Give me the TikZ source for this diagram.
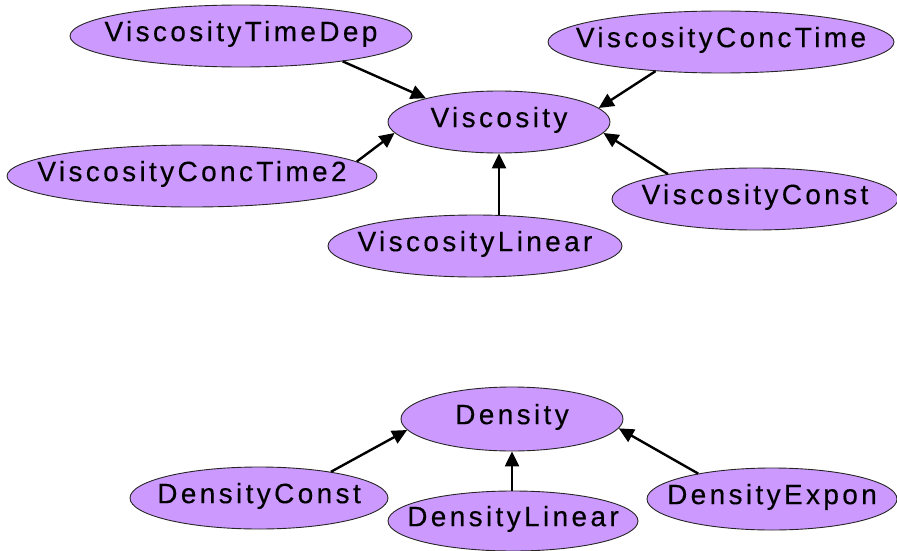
\documentclass[tikz,border=0pt]{standalone}
\usepackage{fontspec}
\setmainfont[LetterSpace=12,FakeBold=0.3]{Liberation Sans}
\usetikzlibrary{shapes.geometric,arrows.meta}
\definecolor{lilac}{HTML}{CC99FF}
\newcommand{\entlabel}[1]{\makebox[0pt]{#1}\rule[-10pt]{0pt}{10pt}}
\tikzset{
  ent/.style={ellipse, draw=black!85, line width=0.9pt, fill=lilac, inner sep=0pt,
    font=\fontsize{28}{33}\selectfont},
  edge/.style={line width=2.4pt, -{Triangle[length=15pt,width=14pt]}}
}
\begin{document}
\begin{tikzpicture}[x=1pt,y=-1pt]
\useasboundingbox (0,0) rectangle (897,551);
\node[ent, minimum width=342pt, minimum height=62pt] (vtd) at (241,36) {\entlabel{ViscosityTimeDep}};
\node[ent, minimum width=346pt, minimum height=62pt] (vct) at (721,42) {\entlabel{ViscosityConcTime}};
\node[ent, minimum width=222pt, minimum height=62pt] (vis) at (499,122) {\entlabel{Viscosity}};
\node[ent, minimum width=370pt, minimum height=62pt] (vct2) at (192,176) {\entlabel{ViscosityConcTime2}};
\node[ent, minimum width=286pt, minimum height=62pt] (vc) at (755,199) {\entlabel{ViscosityConst}};
\node[ent, minimum width=294pt, minimum height=62pt] (vl) at (475,246) {\entlabel{ViscosityLinear}};
\node[ent, minimum width=222pt, minimum height=64pt] (den) at (512,419) {\entlabel{Density}};
\node[ent, minimum width=258pt, minimum height=62pt] (dc) at (259,498) {\entlabel{DensityConst}};
\node[ent, minimum width=250pt, minimum height=60pt] (dl) at (513,521) {\entlabel{DensityLinear}};
\node[ent, minimum width=250pt, minimum height=62pt] (de) at (772,499) {\entlabel{DensityExpon}};
\draw[edge] (vtd.-14) -- (vis.162);
\draw[edge] (vct2.5) -- (vis.-174);
\draw[edge] (vis.south |- vl.north) -- (vis.south);
\draw[edge] (vct.-156) -- (vis.8);
\draw[edge] (vc.164) -- (vis.-6);
\draw[edge] (dc.20) -- (den.-174);
\draw[edge] (den.south |- dl.north) -- (den.south);
\draw[edge] (de.161) -- (den.-5.5);
\end{tikzpicture}
\end{document}
